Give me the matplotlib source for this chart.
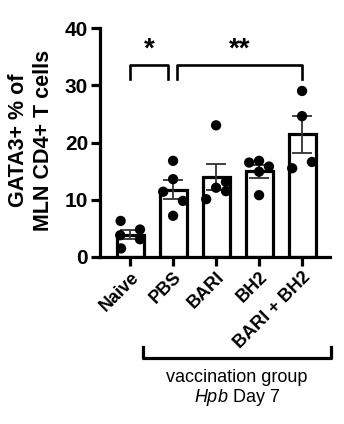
import numpy as np
import matplotlib
matplotlib.use("Agg")
import matplotlib.pyplot as plt

plt.rcParams['font.family'] = ['Liberation Sans', 'DejaVu Sans']
plt.rcParams['mathtext.fontset'] = 'custom'
plt.rcParams['mathtext.it'] = 'Liberation Sans:italic'
plt.rcParams['mathtext.rm'] = 'Liberation Sans'

# GATA3+ % of MLN CD4+ T cells, one list per group
groups = ['Naive', 'PBS', 'BARI', 'BH2', 'BARI + BH2']
naive = [6.3, 4.8, 3.8, 3.1, 1.5]
pbs = [16.8, 13.6, 11.4, 9.8, 7.2]
bari = [23.0, 13.1, 12.1, 11.5, 10.1]
bh2 = [16.5, 16.8, 15.8, 14.9, 10.8]
bari_bh2 = [29.0, 24.6, 15.5, 16.6]
values = [naive, pbs, bari, bh2, bari_bh2]

# comparisons: (group a, group b, label)
comparisons = [(0, 1, '*'), (1, 4, '**')]

# horizontal spread of the dots within each bar
jitter = [
    [-0.22, 0.23, -0.23, 0.23, -0.21],
    [0.0, 0.0, -0.23, 0.23, 0.0],
    [0.0, 0.23, 0.0, 0.23, -0.23],
    [-0.23, 0.0, 0.23, 0.0, 0.0],
    [0.0, 0.0, -0.23, 0.23],
]

means = [np.mean(v) for v in values]
sems = [np.std(v, ddof=1) / np.sqrt(len(v)) for v in values]
x = np.arange(len(groups))

fig = plt.figure(figsize=(3.44, 4.24), dpi=100)
ax = fig.add_axes([100 / 344, 1 - 257 / 424, 230 / 344, 229 / 424])

lw = 2.3
ax.bar(x, means, width=0.63, color='white', edgecolor='black',
       linewidth=lw, zorder=2)
ax.errorbar(x, means, yerr=sems, fmt='none', ecolor='#333333',
            elinewidth=1.3, capsize=7, capthick=1.3, zorder=3)
for i, v in enumerate(values):
    ax.scatter(x[i] + np.array(jitter[i]), v, s=55, color='black',
               edgecolors='none', zorder=4, clip_on=False)

ax.set_xlim(-0.70, 4.65)
ax.set_ylim(0, 40)
ax.set_yticks([0, 10, 20, 30, 40])
ax.set_xticks(x)
ax.set_xticklabels(groups, rotation=45, ha='right', rotation_mode='anchor',
                   fontsize=13, fontweight='bold')
for lab in ax.get_yticklabels():
    lab.set_fontsize(15)
    lab.set_fontweight('bold')
ax.tick_params(axis='both', length=6.5, width=lw, pad=2)

for side in ['top', 'right']:
    ax.spines[side].set_visible(False)
for side in ['left', 'bottom']:
    ax.spines[side].set_linewidth(lw)

# significance brackets
for a, b, label in comparisons:
    xa = a if a == 0 else a + 0.1
    xb = b if b == 4 else b - 0.12
    ax.plot([xa, xa, xb, xb], [31.1, 33.5, 33.5, 31.1], color='black',
            lw=1.9, clip_on=False)
    ax.text((xa + xb) / 2, 33.9, label, ha='center', va='bottom',
            fontsize=20, fontweight='bold')

# vaccination group bracket under the axis
ax.plot([0.30, 0.30, 4.67, 4.67], [-15.7, -17.6, -17.6, -15.7],
        color='black', lw=2.3, clip_on=False)
ax.text(2.48, -21.0, 'vaccination group', ha='center', va='center',
        fontsize=13)
ax.text(2.48, -24.6, r'$\it{Hpb}$ Day 7', ha='center', va='center',
        fontsize=13)

fig.text(31 / 344, 1 - 140 / 424, 'GATA3+ % of\nMLN CD4+ T cells',
         rotation=90, ha='center', va='center', ma='center',
         fontsize=15.5, fontweight='bold', linespacing=1.3)

fig.savefig('out.png', dpi=100, facecolor='white')
